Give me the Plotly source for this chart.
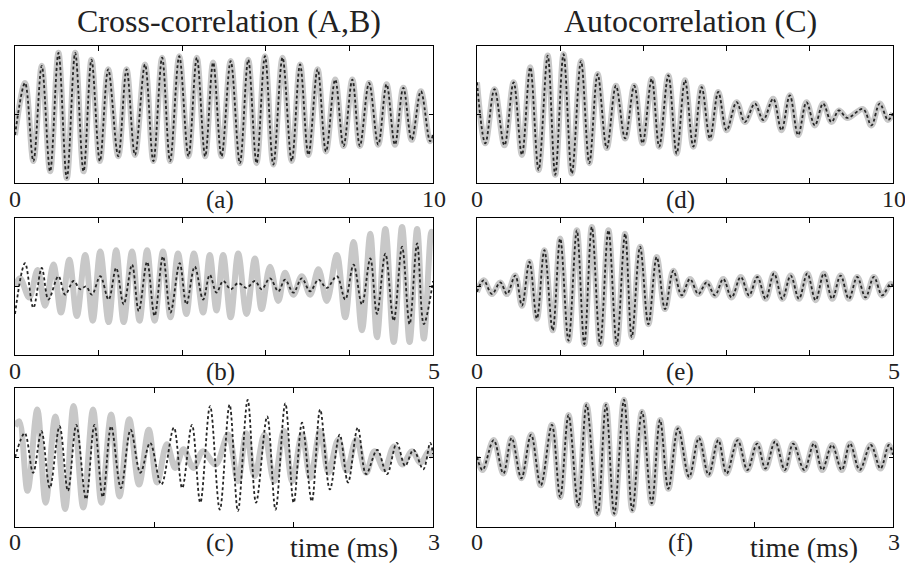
import plotly.graph_objects as go

W, H = 905, 563

# ---------------- data: extrema of each waveform (time in ms, normalised amplitude) -------------
# (a) cross-correlation, 0-10 ms (gray and dashed nearly coincide)
a_t = [0.00, 0.24, 0.44, 0.64, 0.84, 1.04, 1.24, 1.44, 1.64, 1.83, 2.03, 2.23, 2.47, 2.67, 2.87,
       3.11, 3.31, 3.52, 3.71, 3.93, 4.15, 4.35, 4.55, 4.74, 4.94, 5.16, 5.38, 5.58, 5.78, 5.98,
       6.18, 6.40, 6.62, 6.82, 7.02, 7.24, 7.44, 7.66, 7.86, 8.07, 8.25, 8.47, 8.69, 8.89, 9.09,
       9.29, 9.49, 9.71, 9.93, 10.00]
a_v = [-0.30, 0.46, -0.68, 0.71, -0.83, 0.90, -0.93, 0.90, -0.83, 0.80, -0.68, 0.66, -0.61, 0.66, -0.59,
       0.73, -0.68, 0.83, -0.68, 0.85, -0.61, 0.83, -0.61, 0.76, -0.61, 0.78, -0.71, 0.80, -0.71, 0.85,
       -0.73, 0.83, -0.68, 0.73, -0.59, 0.66, -0.54, 0.51, -0.46, 0.51, -0.46, 0.46, -0.44, 0.44, -0.44,
       0.39, -0.37, 0.34, -0.39, -0.30]

# (b) cross-correlation, 0-5 ms
b_gray_t = [0.00, 0.06, 0.17, 0.27, 0.36, 0.46, 0.55, 0.65, 0.74, 0.84, 0.93, 1.02, 1.12, 1.21, 1.30,
            1.40, 1.49, 1.58, 1.67, 1.77, 1.86, 1.95, 2.05, 2.14, 2.25, 2.33, 2.41, 2.49, 2.58, 2.67,
            2.77, 2.87, 2.95, 3.05, 3.15, 3.23, 3.33, 3.43, 3.53, 3.63, 3.73, 3.85, 3.95, 4.05, 4.15,
            4.25, 4.33, 4.43, 4.53, 4.63, 4.72, 4.81, 4.89, 4.98, 5.00]
b_gray_v = [0.00, 0.12, -0.16, 0.24, -0.28, 0.32, -0.38, 0.39, -0.43, 0.46, -0.50, 0.51, -0.52, 0.53, -0.52,
            0.51, -0.50, 0.53, -0.50, 0.51, -0.45, 0.48, -0.40, 0.48, -0.38, 0.46, -0.35, 0.46, -0.45, 0.48,
            -0.40, 0.41, -0.33, 0.29, -0.21, 0.20, -0.12, 0.15, -0.12, 0.25, -0.21, 0.46, -0.45, 0.65, -0.64,
            0.77, -0.74, 0.84, -0.81, 0.87, -0.81, 0.84, -0.76, 0.80, 0.70]
b_dash_t = [0.00, 0.12, 0.22, 0.32, 0.40, 0.52, 0.60, 0.70, 0.78, 0.85, 0.92, 1.02, 1.12, 1.21, 1.30,
            1.40, 1.48, 1.58, 1.67, 1.77, 1.86, 1.97, 2.05, 2.15, 2.25, 2.33, 2.41, 2.49, 2.58, 2.67,
            2.77, 2.87, 2.95, 3.05, 3.15, 3.23, 3.33, 3.43, 3.53, 3.63, 3.73, 3.85, 3.95, 4.05, 4.15,
            4.25, 4.33, 4.43, 4.53, 4.63, 4.72, 4.81, 4.89, 5.00]
b_dash_v = [-0.40, 0.34, -0.31, 0.27, -0.19, 0.15, -0.12, 0.08, -0.04, 0.00, -0.12, 0.15, -0.19, 0.27, -0.26,
            0.32, -0.36, 0.36, -0.43, 0.44, -0.38, 0.34, -0.26, 0.29, -0.19, 0.17, -0.09, 0.08, -0.04, 0.05,
            -0.02, 0.08, -0.04, 0.12, -0.07, 0.10, -0.09, 0.12, -0.07, 0.10, -0.02, 0.15, -0.19, 0.32, -0.26,
            0.41, -0.40, 0.48, -0.50, 0.58, -0.55, 0.63, -0.55, 0.08]

# (c) cross-correlation, 0-3 ms
c_gray_t = [0.00, 0.03, 0.09, 0.16, 0.22, 0.29, 0.36, 0.42, 0.49, 0.56, 0.62, 0.69, 0.75, 0.82, 0.89,
            0.96, 1.02, 1.09, 1.15, 1.21, 1.28, 1.35, 1.44, 1.53, 1.60, 1.66, 1.72, 1.79, 1.86, 1.93,
            1.99, 2.06, 2.12, 2.19, 2.25, 2.32, 2.38, 2.45, 2.52, 2.58, 2.65, 2.72, 2.78, 2.85, 2.91,
            2.97, 3.00]
c_gray_v = [0.45, 0.52, -0.48, 0.69, -0.65, 0.59, -0.74, 0.74, -0.72, 0.69, -0.65, 0.62, -0.56, 0.55, -0.39,
            0.40, -0.36, 0.19, -0.15, 0.12, -0.15, 0.09, -0.10, 0.33, -0.34, 0.35, -0.27, 0.33, -0.34, 0.38,
            -0.34, 0.33, -0.29, 0.38, -0.22, 0.26, -0.19, 0.26, -0.22, 0.09, -0.17, 0.16, -0.10, 0.09, -0.08,
            0.09, 0.00]
c_dash_t = [0.00, 0.07, 0.13, 0.19, 0.25, 0.32, 0.38, 0.44, 0.51, 0.57, 0.63, 0.69, 0.76, 0.83, 0.90,
            0.97, 1.05, 1.14, 1.20, 1.27, 1.33, 1.40, 1.47, 1.54, 1.60, 1.67, 1.73, 1.81, 1.87, 1.94,
            2.00, 2.06, 2.13, 2.19, 2.26, 2.33, 2.39, 2.46, 2.52, 2.60, 2.67, 2.74, 2.80, 2.86, 2.93,
            2.98, 3.00]
c_dash_v = [0.00, 0.35, -0.22, 0.38, -0.44, 0.45, -0.48, 0.47, -0.60, 0.47, -0.57, 0.45, -0.44, 0.40, -0.22,
            0.21, -0.39, 0.43, -0.44, 0.47, -0.65, 0.74, -0.75, 0.76, -0.77, 0.83, -0.65, 0.59, -0.75, 0.78,
            -0.65, 0.50, -0.63, 0.69, -0.46, 0.33, -0.36, 0.43, -0.24, 0.11, -0.24, 0.21, -0.12, 0.11, -0.17,
            0.21, 0.05]

# (d) autocorrelation, 0-10 ms
d_t = [0.00, 0.20, 0.42, 0.66, 0.88, 1.08, 1.28, 1.48, 1.70, 1.88, 2.08, 2.28, 2.50, 2.70, 2.90,
       3.12, 3.34, 3.56, 3.78, 3.98, 4.20, 4.38, 4.60, 4.80, 5.00, 5.20, 5.40, 5.60, 5.80, 6.00,
       6.24, 6.44, 6.68, 6.88, 7.12, 7.32, 7.52, 7.72, 7.92, 8.12, 8.32, 8.52, 8.70, 8.90, 9.28,
       9.48, 9.68, 9.88, 10.00]
d_v = [0.47, -0.42, 0.37, -0.45, 0.47, -0.59, 0.69, -0.81, 0.86, -0.88, 0.88, -0.86, 0.78, -0.71, 0.59,
       -0.49, 0.42, -0.35, 0.42, -0.42, 0.52, -0.47, 0.57, -0.57, 0.50, -0.47, 0.40, -0.35, 0.33, -0.23,
       0.18, -0.11, 0.16, -0.08, 0.23, -0.23, 0.28, -0.30, 0.18, -0.16, 0.16, -0.11, 0.06, -0.05, 0.08,
       -0.16, 0.16, -0.08, 0.02]

# (e) autocorrelation, 0-5 ms
e_t = [0.00, 0.08, 0.18, 0.28, 0.36, 0.46, 0.54, 0.63, 0.72, 0.81, 0.91, 1.00, 1.10, 1.20, 1.29,
       1.38, 1.48, 1.58, 1.68, 1.78, 1.86, 1.96, 2.06, 2.16, 2.26, 2.36, 2.46, 2.56, 2.66, 2.76,
       2.86, 2.96, 3.06, 3.17, 3.27, 3.37, 3.47, 3.57, 3.67, 3.77, 3.87, 3.97, 4.07, 4.17, 4.27,
       4.37, 4.47, 4.57, 4.67, 4.77, 4.87, 4.97, 5.00]
e_v = [-0.08, 0.09, -0.11, 0.06, -0.11, 0.16, -0.28, 0.36, -0.47, 0.53, -0.64, 0.70, -0.79, 0.82, -0.84,
       0.87, -0.84, 0.82, -0.84, 0.77, -0.74, 0.58, -0.55, 0.43, -0.33, 0.23, -0.13, 0.11, -0.11, 0.06,
       -0.13, 0.11, -0.16, 0.14, -0.13, 0.14, -0.18, 0.19, -0.18, 0.16, -0.18, 0.19, -0.20, 0.19, -0.18,
       0.16, -0.18, 0.14, -0.16, 0.14, -0.13, 0.04, 0.00]

# (f) autocorrelation, 0-3 ms
f_t = [0.00, 0.04, 0.12, 0.19, 0.25, 0.32, 0.39, 0.46, 0.54, 0.60, 0.66, 0.73, 0.79, 0.87, 0.93,
       0.99, 1.06, 1.12, 1.19, 1.26, 1.32, 1.38, 1.45, 1.53, 1.60, 1.67, 1.74, 1.80, 1.88, 1.95,
       2.02, 2.08, 2.15, 2.22, 2.28, 2.36, 2.43, 2.49, 2.56, 2.63, 2.69, 2.76, 2.84, 2.91, 2.97,
       3.00]
f_v = [0.01, -0.18, 0.25, -0.23, 0.28, -0.30, 0.33, -0.40, 0.47, -0.57, 0.61, -0.69, 0.76, -0.81, 0.76,
       -0.81, 0.83, -0.76, 0.66, -0.66, 0.54, -0.45, 0.42, -0.28, 0.28, -0.25, 0.25, -0.23, 0.25, -0.18,
       0.20, -0.16, 0.23, -0.18, 0.20, -0.18, 0.20, -0.18, 0.18, -0.18, 0.20, -0.18, 0.18, -0.16, 0.18,
       0.04]

titles = ["Cross-correlation (A,B)", "Autocorrelation (C)"]
letters = ["(a)", "(b)", "(c)", "(d)", "(e)", "(f)"]
x_max = [10, 5, 3]
x_inner_ticks = [[2, 4, 6, 8], [1, 2, 3, 4], [1, 2]]
x_label = "time (ms)"

# ---------------- layout geometry (pixels) ----------------
COLS = [(15, 433), (477, 893)]
ROWS = [(46, 183), (218, 355), (388, 527)]
LABEL_Y = [199, 371, 542]
LETTER_X = [220, 680]
TITLE_X = [229, 690]
TIME_X = [344, 804]

FONT = "Liberation Serif"
GRAY = "rgb(200,200,200)"
DARK = "#262626"


def px(x):
    return x / W


def py(y):
    return 1 - y / H


panels = [
    (0, 0, (a_t, a_v), (a_t, a_v)),
    (0, 1, (b_gray_t, b_gray_v), (b_dash_t, b_dash_v)),
    (0, 2, (c_gray_t, c_gray_v), (c_dash_t, c_dash_v)),
    (1, 0, (d_t, d_v), (d_t, d_v)),
    (1, 1, (e_t, e_v), (e_t, e_v)),
    (1, 2, (f_t, f_v), (f_t, f_v)),
]

fig = go.Figure()
layout = {}
annotations = []

for i, (col, row, gray, dash) in enumerate(panels):
    assert len(gray[0]) == len(gray[1]), (i, len(gray[0]), len(gray[1]))
    assert len(dash[0]) == len(dash[1]), (i, len(dash[0]), len(dash[1]))
    n = i + 1
    xa = "x" if n == 1 else f"x{n}"
    ya = "y" if n == 1 else f"y{n}"
    fig.add_trace(go.Scatter(x=gray[0], y=gray[1], mode="lines", xaxis=xa, yaxis=ya,
                             line=dict(color=GRAY, width=6, shape="spline", smoothing=1.0),
                             hoverinfo="skip", showlegend=False))
    fig.add_trace(go.Scatter(x=dash[0], y=dash[1], mode="lines", xaxis=xa, yaxis=ya,
                             line=dict(color=DARK, width=1.8, dash="3px,2.5px",
                                       shape="spline", smoothing=1.0),
                             hoverinfo="skip", showlegend=False))
    x0, x1 = COLS[col]
    y0, y1 = ROWS[row]
    tmax = x_max[row]
    layout["xaxis" if n == 1 else f"xaxis{n}"] = dict(
        domain=[px(x0), px(x1)], range=[0, tmax], anchor=ya,
        showline=True, linecolor="black", linewidth=1.3, mirror="ticks",
        ticks="inside", ticklen=5, tickwidth=1.2, tickcolor="black",
        tickvals=x_inner_ticks[row], showticklabels=False,
        showgrid=False, zeroline=False, fixedrange=True)
    layout["yaxis" if n == 1 else f"yaxis{n}"] = dict(
        domain=[py(y1), py(y0)], range=[-1, 1], anchor=xa,
        showline=True, linecolor="black", linewidth=1.3, mirror="ticks",
        ticks="inside", ticklen=4, tickwidth=1.2, tickcolor="black",
        tickvals=[0], showticklabels=False,
        showgrid=False, zeroline=False, fixedrange=True)
    ly = LABEL_Y[row]
    annotations.append(dict(text="0", x=px(x0), y=py(ly), xref="paper", yref="paper",
                            xanchor="center", yanchor="middle", showarrow=False,
                            font=dict(family=FONT, size=24, color="#222")))
    annotations.append(dict(text=str(tmax), x=px(x1 + 1), y=py(ly), xref="paper", yref="paper",
                            xanchor="center", yanchor="middle", showarrow=False,
                            font=dict(family=FONT, size=24, color="#222")))
    annotations.append(dict(text=letters[i], x=px(LETTER_X[col]), y=py(ly + 1), xref="paper",
                            yref="paper", xanchor="center", yanchor="middle", showarrow=False,
                            font=dict(family=FONT, size=25, color="#222")))
    if row == 2:
        annotations.append(dict(text=x_label, x=px(TIME_X[col]), y=py(ly + 5), xref="paper",
                                yref="paper", xanchor="center", yanchor="middle", showarrow=False,
                                font=dict(family=FONT, size=28, color="#222")))

for col in range(2):
    annotations.append(dict(text=titles[col], x=px(TITLE_X[col]), y=py(21), xref="paper",
                            yref="paper", xanchor="center", yanchor="middle", showarrow=False,
                            font=dict(family=FONT, size=32, color="#222")))

fig.update_layout(width=W, height=H, margin=dict(l=0, r=0, t=0, b=0),
                  paper_bgcolor="white", plot_bgcolor="white",
                  annotations=annotations, **layout)

fig.write_html("out.html", config={"displayModeBar": False},
               post_script="document.body.style.margin='0';document.body.style.overflow='hidden';")
